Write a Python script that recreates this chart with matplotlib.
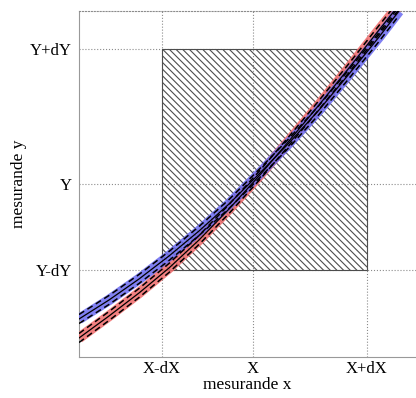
import numpy as np
import matplotlib.pyplot as plt
from matplotlib.patches import Rectangle

plt.rcParams['font.family'] = ['Liberation Serif', 'DejaVu Serif']
plt.rcParams['hatch.linewidth'] = 0.8

# tick positions (arbitrary units) and their labels
x_ticks = [83, 174, 288]
x_labels = ["X-dX", "X", "X+dX"]
y_ticks = [87, 173, 308]
y_labels = ["Y-dY", "Y", "Y+dY"]

# two calibration curves
x_curve = [0, 30, 60, 90, 120, 150, 180, 210, 240, 270, 300, 320]
y_red = [19, 41, 64, 89, 117, 148, 181, 216, 252, 289, 327, 352]
y_blue = [38, 57, 78, 101, 126, 153, 183, 214, 247, 283, 320, 346]
band = 4.5

fig = plt.figure(figsize=(4.16, 3.98), dpi=100)
ax = fig.add_axes([79/416, 41/398, 337/416, 346/398])

ax.set_xlim(0, 337)
ax.set_ylim(0, 346)

# hatched uncertainty box
box = Rectangle((x_ticks[0], y_ticks[0]), x_ticks[2]-x_ticks[0], y_ticks[2]-y_ticks[0],
                facecolor='none', edgecolor='0.3', lw=0.8, hatch='\\\\\\\\\\', zorder=2)
ax.add_patch(box)

xc = np.array(x_curve)
for yy, col in [(y_red, '#f06a6a'), (y_blue, '#6a6af0')]:
    yy = np.array(yy)
    ax.plot(xc, yy, color=col, lw=7.5, alpha=0.85, solid_capstyle='butt', zorder=3)
    ax.plot(xc, yy, color='k', lw=0.9, zorder=4)
    ax.plot(xc, yy + band, color='k', lw=1.1, ls=(0, (4, 2.5)), zorder=4)
    ax.plot(xc, yy - band, color='k', lw=1.1, ls=(0, (4, 2.5)), zorder=4)

ax.set_xticks(x_ticks)
ax.set_xticklabels(x_labels)
ax.set_yticks(y_ticks)
ax.set_yticklabels(y_labels)
ax.tick_params(length=0, labelsize=12, pad=5)
ax.tick_params(axis='x', pad=3)
ax.grid(True, ls=':', color='0.55', lw=0.8)
ax.set_axisbelow(True)

ax.spines['right'].set_visible(False)
ax.spines['top'].set_linestyle(':')
ax.spines['top'].set_color('0.55')
ax.spines['top'].set_linewidth(0.8)
ax.spines['left'].set_color('0.6')
ax.spines['bottom'].set_color('0.6')

ax.set_xlabel("mesurande x", fontsize=12.5, labelpad=0)
ax.set_ylabel("mesurande y", fontsize=12.5, labelpad=2)

fig.savefig('out.png', dpi=100)
